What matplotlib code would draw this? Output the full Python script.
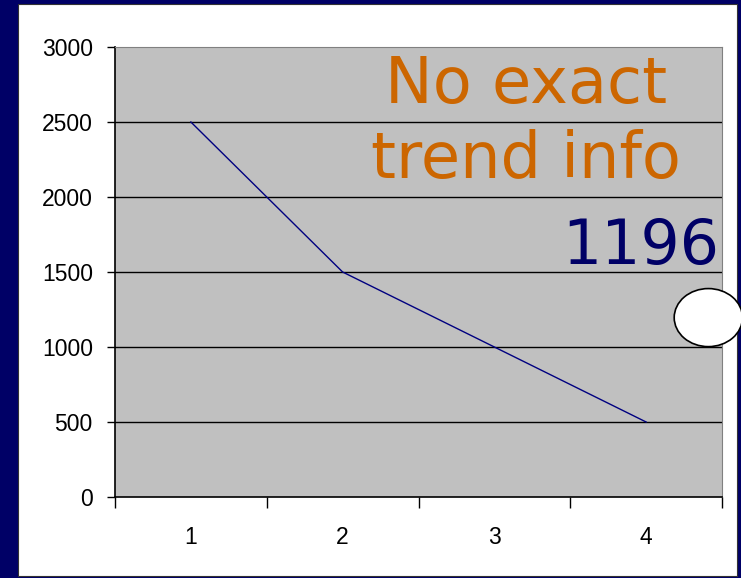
import matplotlib
matplotlib.use("Agg")
import matplotlib.pyplot as plt
from matplotlib.patches import Rectangle, Ellipse

# series
periods = [1, 2, 3, 4]
values = [2500, 1500, 1000, 500]
y_ticks = [0, 500, 1000, 1500, 2000, 2500, 3000]
marker_value = 1196
note_lines = ["No exact", "trend info"]

navy = "#000066"
orange = "#CC6600"
line_navy = "#000080"

fig = plt.figure(figsize=(7.41, 5.78), dpi=100)
fig.patch.set_facecolor(navy)

# white slide panel behind the chart
W, H = 741, 578
fig.patches.append(Rectangle((18 / W, 2 / H), (737 - 18) / W, (574 - 2) / H,
                             transform=fig.transFigure, facecolor="white",
                             edgecolor="#333333", linewidth=0.8, zorder=-5))

ax = fig.add_axes([115 / W, (H - 497) / H, (722 - 115) / W, (497 - 47) / H])
ax.set_facecolor("#C0C0C0")
ax.set_xlim(0.5, 4.5)
ax.set_ylim(0, 3000)

ax.plot(periods, values, color=line_navy, linewidth=1.0, zorder=3)

ax.set_yticks(y_ticks)
ax.set_yticklabels([str(v) for v in y_ticks], fontsize=16.5,
                   family="Liberation Sans")
for v in y_ticks[1:-1]:
    ax.axhline(v, color="black", linewidth=1.0, zorder=1)

# category boundaries get the tick marks, labels sit in between
ax.set_xticks([0.5, 1.5, 2.5, 3.5, 4.5])
ax.set_xticklabels([])
ax.set_xticks(periods, minor=True)
ax.set_xticklabels([str(p) for p in periods], minor=True, fontsize=16.5,
                   family="Liberation Sans")
ax.tick_params(axis="x", which="minor", length=0, pad=21)
ax.tick_params(axis="x", which="major", length=8, width=1, direction="out")
ax.tick_params(axis="y", length=6, width=1, direction="out", pad=10)

for side in ["top", "right"]:
    ax.spines[side].set_color("#808080")
for side in ["left", "bottom"]:
    ax.spines[side].set_color("black")
    ax.spines[side].set_linewidth(1.2)

ax.text(3.21, 2747, note_lines[0], ha="center", va="center",
        fontsize=46, color=orange, family="DejaVu Sans")
ax.text(3.21, 2247, note_lines[1], ha="center", va="center",
        fontsize=46, color=orange, family="DejaVu Sans")
ax.text(4.48, 1667, str(marker_value), ha="right", va="center",
        fontsize=44.5, color=navy, family="DejaVu Sans")

ax.add_patch(Ellipse((4.41, marker_value), 0.45, 387,
                     facecolor="white", edgecolor="black", linewidth=1.2,
                     clip_on=False, zorder=5))

fig.savefig("out.png", dpi=100, facecolor=fig.get_facecolor())
